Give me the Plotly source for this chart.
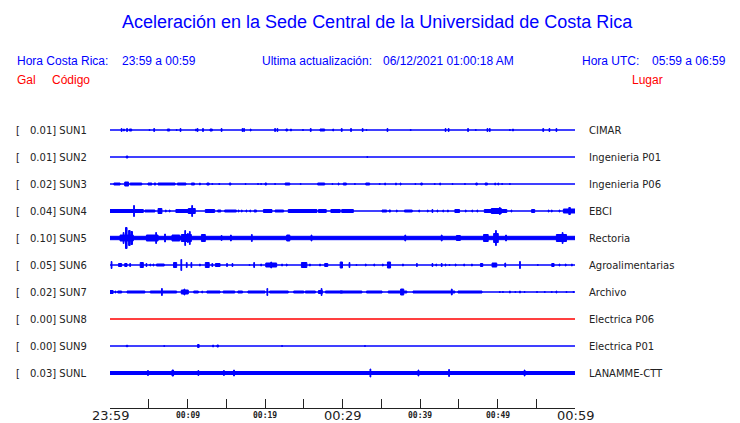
import plotly.graph_objects as go

# ---------------- data ----------------
stations = ["SUN1", "SUN2", "SUN3", "SUN4", "SUN5", "SUN6", "SUN7", "SUN8", "SUN9", "SUNL"]
places = ["CIMAR", "Ingenieria P01", "Ingenieria P06", "EBCI", "Rectoria",
          "Agroalimentarias", "Archivo", "Electrica P06", "Electrica P01", "LANAMME-CTT"]
peak_gal = ["0.01", "0.01", "0.02", "0.04", "0.10", "0.05", "0.02", "0.00", "0.00", "0.03"]
# background noise half-amplitude (display counts, 27 counts between traces)
noise = [0, 0, 0, 0, 2.2, 0, 0, 0, 0, 2.0]

# bursts: (start minute, end minute, half-amplitude in display counts)
sun1 = [(1.5,1.5,2),(1.8,1.8,1.5),(2.2,2.2,2),(2.5,2.8,1.5),(5.1,5.1,1),(5.7,5.7,2),(7.4,7.7,1.5),
        (8.6,8.6,1),(9.1,9.1,2),(11.1,11.1,1.5),(11.3,11.3,2),(12.0,12.0,2),(12.9,13.2,1.5),(14.4,14.4,2),
        (17.1,17.1,2),(17.3,17.3,2),(18.1,18.2,1.5),(21.3,21.3,2),(21.6,21.6,2),(22.7,22.9,1.5),(23.3,23.4,1.5),
        (24.9,24.9,1),(25.9,25.9,2),(27.1,27.7,1.5),(28.8,28.8,1.5),(29.9,29.9,2),(31.1,31.1,2),(32.6,32.6,2),
        (33.1,33.1,1),(35.8,35.8,2),(38.8,38.8,1),(43.3,43.3,2),(43.7,43.7,2),(46.2,46.2,2),(47.2,47.2,1),
        (48.7,48.7,2),(49.0,49.0,2),(51.6,51.6,1),(52.0,52.0,1.5),(55.9,55.9,2),(56.7,56.7,2),(57.6,57.6,2)]
sun2 = [(2.1,2.3,1.5),(33.2,33.2,1)]
sun3 = [(0.5,1.3,1.5),(1.9,2.4,2.5),(2.6,4.1,1.5),(4.9,5.4,1.5),(5.7,5.9,1.5),(6.2,8.4,1.5),(8.7,9.8,1.5),
        (10.5,10.9,1.5),(11.6,11.6,1.5),(12.5,12.8,1.5),(13.2,13.2,1),(14.1,14.1,1),(15.4,15.6,1.5),
        (17.5,17.5,1),(19.1,19.1,1),(19.5,19.5,1),(20.0,20.2,1.5),(21.3,21.3,1),(22.6,23.2,1.5),(24.6,24.6,1),
        (26.8,27.7,1.5),(28.7,28.7,1),(29.5,29.5,1.5),(30.1,30.5,1.5),(31.6,31.6,1),(33.0,33.5,1.5),
        (34.8,34.8,1),(35.5,35.5,1.5),(36.9,36.9,1.5),(37.5,37.5,1.5),(39.4,39.4,1),(40.1,40.3,1.5),
        (41.9,41.9,1),(42.6,42.6,1.5),(44.2,44.2,1),(45.8,45.8,1),(47.2,47.4,1.5),(48.4,48.7,1.5),
        (49.7,49.7,1.5),(50.1,50.1,1.5),(50.6,50.6,1),(51.6,51.6,1)]
sun4 = [(0,3.0,2),(3.1,3.1,6),(3.2,4.3,2),(4.5,5.8,1.5),(6.2,6.7,3),(7.2,7.2,1.5),(7.7,7.7,1.5),
        (8.5,10.1,2),(10.1,11.0,3),(10.6,10.6,6),(12.3,13.5,2),(13.9,14.3,1.5),(14.8,16.3,1.5),(16.6,16.6,1.5),
        (17.0,17.0,1.5),(17.6,17.6,1.5),(18.1,18.1,1.5),(18.6,18.9,1.5),(19.8,20.9,2),(21.3,22.4,1.5),
        (23.0,26.7,2),(26.9,27.9,2),(28.5,29.7,2),(29.9,31.4,2),(35.1,35.7,1.5),(36.0,36.2,1.5),(37.0,37.0,1.5),
        (38.0,39.0,1.5),(39.9,39.9,1.5),(41.0,41.0,1.5),(41.6,41.6,2),(42.2,42.3,1.5),(43.0,43.0,1.5),
        (43.6,43.6,1.5),(44.5,45.1,2),(45.9,45.9,1.5),(46.7,46.8,1.5),(47.4,47.4,1.5),(48.3,51.2,2),
        (49.2,50.5,3),(50.3,50.3,4),(51.8,51.8,1.5),(54.4,54.8,2),(56.6,56.6,1.5),(57.0,57.0,1.5),
        (58.0,58.0,1.5),(58.5,60,2.5),(59.2,59.4,4)]
sun5 = [(1.3,3.0,3.5),(1.7,1.8,6),(2.0,2.2,11),(2.4,2.6,8),(2.7,2.9,7),(4.7,6.2,3.5),(5.9,6.0,6),
        (7.1,7.1,4.5),(8.0,9.0,3.5),(9.2,10.5,4),(9.7,9.7,8),(10.0,10.1,5),(10.3,10.3,7),(11.8,12.3,4),
        (14.4,14.4,3),(15.6,15.6,3.5),(18.3,18.3,4),(22.8,23.2,3.5),(26.0,26.0,3.5),(38.1,38.1,3.5),
        (42.8,42.8,3.5),(44.7,45.2,3),(48.2,48.8,4),(49.5,50.1,5),(49.8,49.8,8),(51.1,51.1,3.5),
        (57.6,58.9,4),(58.4,58.4,6)]
sun6 = [(0.2,0.2,4),(1.1,1.5,2),(1.9,2.2,2),(2.6,2.6,2),(3.9,4.3,3),(4.7,4.7,2),(5.2,5.2,1.5),(5.6,5.6,1.5),
        (6.0,7.0,1.5),(8.2,8.6,3),(9.2,9.2,6),(9.9,9.9,3),(10.5,10.5,3),(11.6,11.6,1.5),(12.3,12.8,3),
        (13.2,13.2,2),(13.6,14.2,2),(15.1,15.1,2),(15.8,15.8,2),(18.0,18.0,1),(18.6,18.6,3),(19.5,19.5,1.5),
        (20.1,21.5,2.5),(20.8,20.8,3.5),(22.2,22.2,1.5),(22.8,22.8,1.5),(24.7,25.4,3),(25.8,25.8,1.5),
        (27.1,27.1,1.5),(27.7,28.1,2),(29.7,30.0,3.5),(30.9,30.9,3),(31.8,31.8,1),(33.0,33.0,1.5),
        (34.1,34.1,1.5),(35.2,35.2,1.5),(35.8,36.2,3.5),(37.8,37.8,1.5),(39.6,39.6,2),(41.6,41.6,2),
        (42.1,42.1,1.5),(42.8,42.8,2),(43.3,43.3,1.5),(43.8,43.8,1),(44.6,44.6,1.5),(45.7,45.7,1.5),
        (46.7,46.7,1.5),(47.8,48.1,2),(49.3,49.9,2.5),(51.0,51.0,2.5),(52.9,52.9,4),(55.2,55.2,1),
        (57.0,57.3,2),(58.0,58.0,1.5),(58.8,58.8,1.5),(59.6,59.6,1.5)]
sun7 = [(0,0.4,2),(0.7,0.7,1.5),(1.0,1.5,1.5),(2.2,4.5,1.5),(5.2,8.6,1.5),(6.7,6.7,4),(9.2,10.1,2.5),
        (9.6,9.6,3.5),(10.8,11.4,1.5),(11.9,11.9,1.5),(12.5,14.2,1.5),(14.6,16.1,1.5),(16.5,17.1,1.5),
        (17.8,20.0,1.5),(20.3,20.3,4),(20.6,23.0,1.5),(23.7,25.0,1.5),(25.2,26.5,1.5),(26.9,27.4,2),
        (27.3,27.3,4),(27.8,30,1.5),(29.7,32.5,1.5),(33.1,35.1,1.5),(35.9,38.3,1.5),(37.5,37.9,3.5),
        (39.1,44.5,1.5),(44.1,44.1,3.5),(44.9,48.0,1.5),(50.3,50.3,1),(50.7,50.7,1),(51.6,51.6,1.5),
        (52.3,52.3,1),(52.9,52.9,1.5),(53.5,53.5,1),(55.1,55.1,1),(56.1,56.1,1),(57.0,57.0,1),
        (57.6,57.6,1.5),(58.9,58.9,1),(59.8,59.8,1)]
sun8 = []
sun9 = [(2.1,2.3,1.2),(7.0,7.0,1),(11.3,11.5,2),(13.3,13.3,1.5),(13.8,14.0,1.5),(22.2,22.2,1),(32.9,32.9,1)]
sunl = [(4.9,4.9,3),(8.0,8.2,3.5),(11.4,11.4,3),(14.7,14.7,3),(16.0,16.0,3.5),(33.6,33.6,4.5),
        (39.8,39.8,3.5),(43.7,43.8,4),(53.5,53.5,3.5)]
bursts = [sun1, sun2, sun3, sun4, sun5, sun6, sun7, sun8, sun9, sunl]

tick_minutes = list(range(0, 61, 5))
label_minutes = [0, 10, 20, 30, 40, 50, 60]
label_text = ["23:59", "00:09", "00:19", "00:29", "00:39", "00:49", "00:59"]
label_major = [True, False, False, True, False, False, True]

# ---------------- figure ----------------
W, H = 740, 423
L, R, T, B = 110, 165, 115, 15
SPACING = 27
BLUE = "#0000ff"
RED = "#ff0000"
LW = 1.0  # outline width of the envelope polygons

fig = go.Figure()
for i, st in enumerate(stations):
    off = -SPACING * i
    col = RED if st == "SUN8" else BLUE
    xs, ys = [], []
    n = max(noise[i] - LW / 2, 0)
    xs += [0, 60, 60, 0, 0, None]
    ys += [off - n, off - n, off + n, off + n, off - n, None]
    for (t0, t1, a) in bursts[i]:
        a = max(a - LW / 2, 0.3)
        if t1 - t0 < 0.12:
            c = (t0 + t1) / 2
            t0, t1 = c - 0.05, c + 0.05
        t0 = max(t0, 0)
        t1 = min(t1, 60)
        xs += [t0, t1, t1, t0, t0, None]
        ys += [off - a, off - a, off + a, off + a, off - a, None]
    fig.add_trace(go.Scatter(x=xs, y=ys, mode="lines", fill="toself", fillcolor=col,
                             line=dict(color=col, width=LW), hoverinfo="skip", showlegend=False))

def px2x(px):
    return (px - L) / (W - L - R)

def py2y(py):
    return (H - B - py) / (H - T - B)

ann = []
def text(px, py, s, size, color, family="Liberation Sans", anchor="left"):
    ann.append(dict(x=px2x(px), y=py2y(py), xref="paper", yref="paper", text=s, showarrow=False,
                    xanchor=anchor, yanchor="middle", font=dict(size=size, color=color, family=family)))

text(377, 22, "Aceleración en la Sede Central de la Universidad de Costa Rica", 18, BLUE, anchor="center")
text(15, 61, "Hora Costa Rica:", 12, BLUE)
text(120, 61, "23:59 a 00:59", 12, BLUE)
text(260, 61, "Ultima actualización:", 12, BLUE)
text(381, 61, "06/12/2021 01:00:18 AM", 12, BLUE)
text(580, 61, "Hora UTC:", 12, BLUE)
text(650, 61, "05:59 a 06:59", 12, BLUE)
text(15, 80, "Gal", 12, RED)
text(50, 80, "Código", 12, RED)
text(630, 80, "Lugar", 12, RED)

for i, st in enumerate(stations):
    py = 130 + SPACING * i
    text(14, py, "[", 10, "#222222", family="DejaVu Sans")
    text(28, py, f"{peak_gal[i]}] {st}", 10, "#222222", family="DejaVu Sans")
    text(587, py, places[i], 10, "#222222", family="DejaVu Sans")

for m, s, major in zip(label_minutes, label_text, label_major):
    if major:
        ann.append(dict(x=m, y=py2y(415), xref="x", yref="paper", text=s, showarrow=False,
                        xanchor="center", yanchor="middle",
                        font=dict(size=13, color="#222222", family="DejaVu Sans")))
    else:
        ann.append(dict(x=m, y=py2y(415), xref="x", yref="paper", text=f"<b>{s}</b>", showarrow=False,
                        xanchor="center", yanchor="middle",
                        font=dict(size=8, color="#222222", family="DejaVu Sans Mono")))

fig.update_layout(
    width=W, height=H, margin=dict(l=L, r=R, t=T, b=B),
    paper_bgcolor="white", plot_bgcolor="white",
    xaxis=dict(range=[0, 60], showgrid=False, zeroline=False, showline=True, linecolor="#222222",
               linewidth=1, ticks="inside", tickvals=tick_minutes, ticklen=9, tickcolor="#222222",
               tickwidth=1, showticklabels=False, fixedrange=True),
    yaxis=dict(range=[-9 * SPACING - 35, 15], visible=False, fixedrange=True),
    annotations=ann,
)
fig.write_html("out.html", config={"displayModeBar": False},
               post_script="document.body.style.margin='0';document.body.style.overflow='hidden';")
